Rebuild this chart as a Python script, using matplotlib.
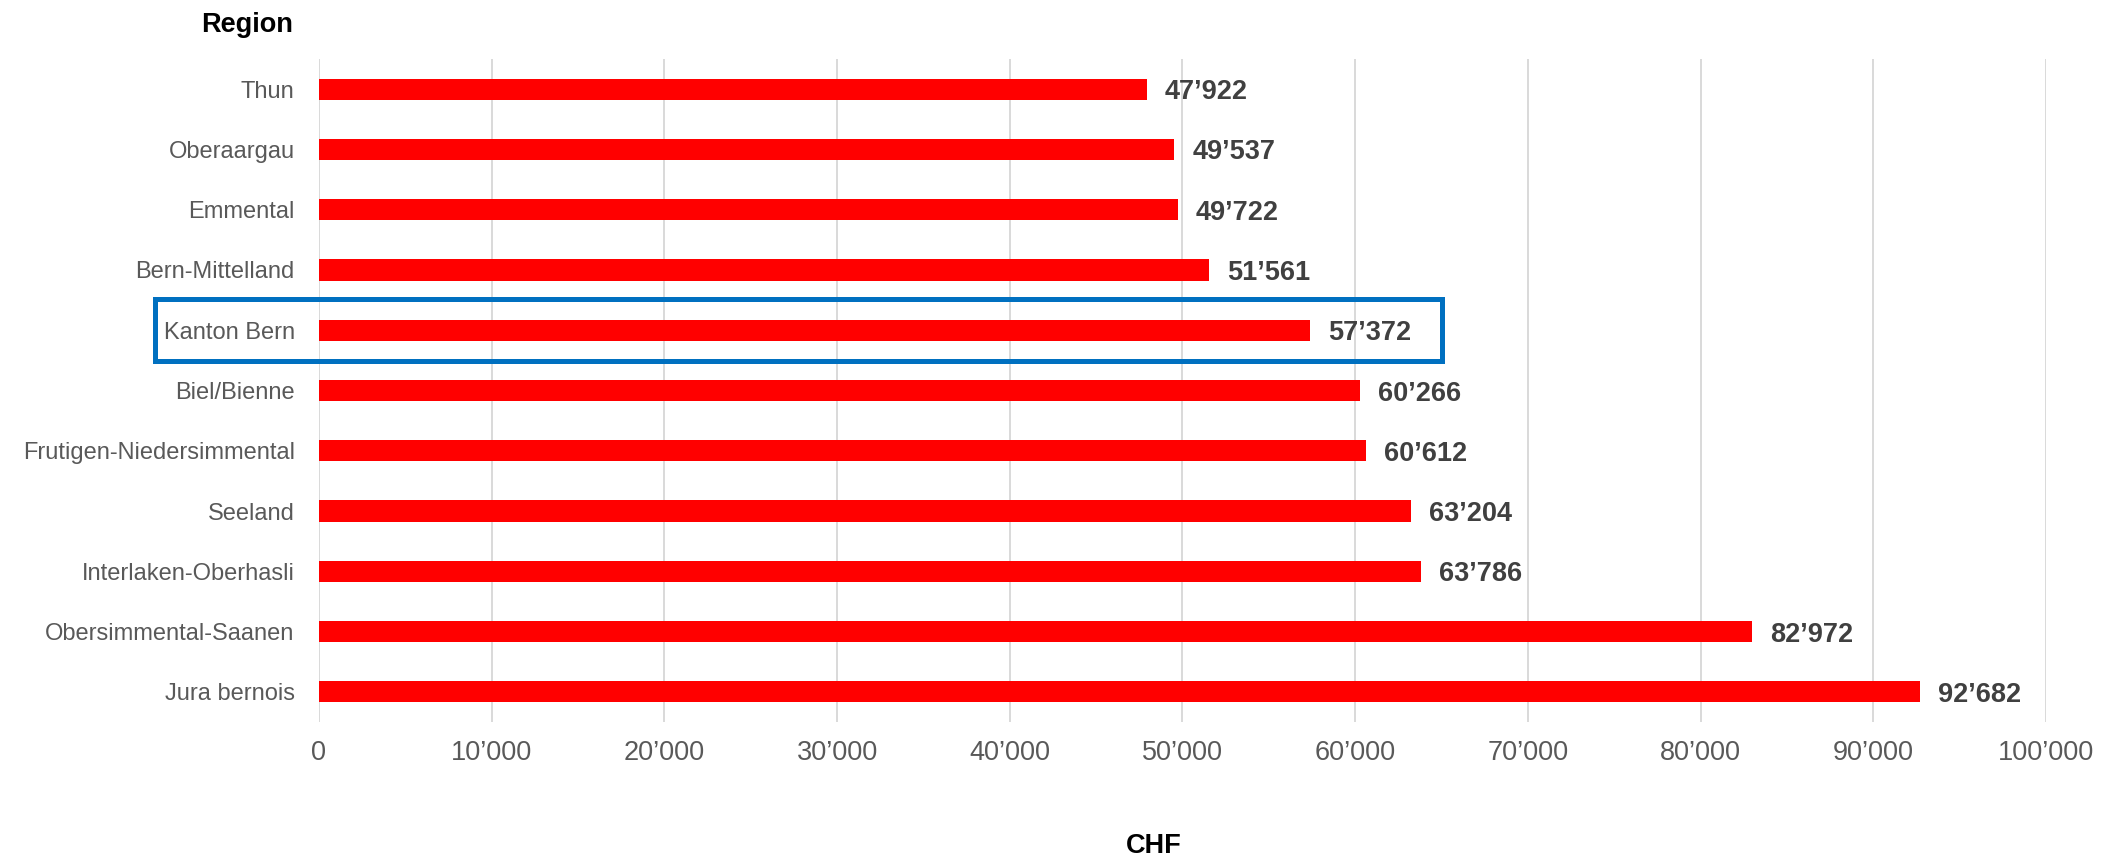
import matplotlib
matplotlib.use("Agg")
import matplotlib.pyplot as plt
from matplotlib.patches import Rectangle
from matplotlib.ticker import FuncFormatter

plt.rcParams['font.family'] = ['Liberation Sans', 'DejaVu Sans']

regions = ["Thun", "Oberaargau", "Emmental", "Bern-Mittelland", "Kanton Bern",
           "Biel/Bienne", "Frutigen-Niedersimmental", "Seeland",
           "Interlaken-Oberhasli", "Obersimmental-Saanen", "Jura bernois"]
values = [47922, 49537, 49722, 51561, 57372, 60266, 60612, 63204, 63786, 82972, 92682]
x_ticks = list(range(0, 100001, 10000))
highlight = "Kanton Bern"

def swiss(v):
    return f"{int(round(v)):,}".replace(",", "\u2019")

fig = plt.figure(figsize=(21.08, 8.59), dpi=100)
ax = fig.add_axes([0.1513, 0.1595, 0.8193, 0.7718])

pos = list(range(len(regions)))
ax.barh(pos, values, height=0.35, color="#ff0000", zorder=3)

for p, v in zip(pos, values):
    ax.text(v + 1050, p, swiss(v), va="center_baseline", ha="left",
            fontsize=19.5, fontweight="bold", color="#404040", zorder=4)

ax.set_xlim(0, 100000)
ax.set_ylim(len(regions) - 0.5, -0.5)
ax.set_xticks(x_ticks)
ax.xaxis.set_major_formatter(FuncFormatter(lambda v, _: swiss(v)))
ax.set_yticks(pos)
ax.set_yticklabels(regions)
ax.tick_params(axis="both", length=0, labelcolor="#595959")
ax.tick_params(axis="y", pad=17.5, labelsize=17)
ax.tick_params(axis="x", pad=13, labelsize=19.5)
ax.grid(axis="x", color="#d9d9d9", linewidth=1.4, zorder=0)
ax.set_axisbelow(True)
for s in ax.spines.values():
    s.set_visible(False)

# highlight frame around the canton total
hi = regions.index(highlight)
ax.add_patch(Rectangle((-9500, hi - 0.51), 9500 + 65000, 1.02, fill=False,
                       edgecolor="#0070c0", linewidth=3.6, clip_on=False, zorder=5))

fig.text(0.139, 0.9627, "Region", ha="right", va="baseline",
         fontsize=19.5, fontweight="bold", color="black")
fig.text(0.5474, 0.007, "CHF", ha="center", va="baseline",
         fontsize=19.5, fontweight="bold", color="black")

fig.savefig("out.png", dpi=100)
